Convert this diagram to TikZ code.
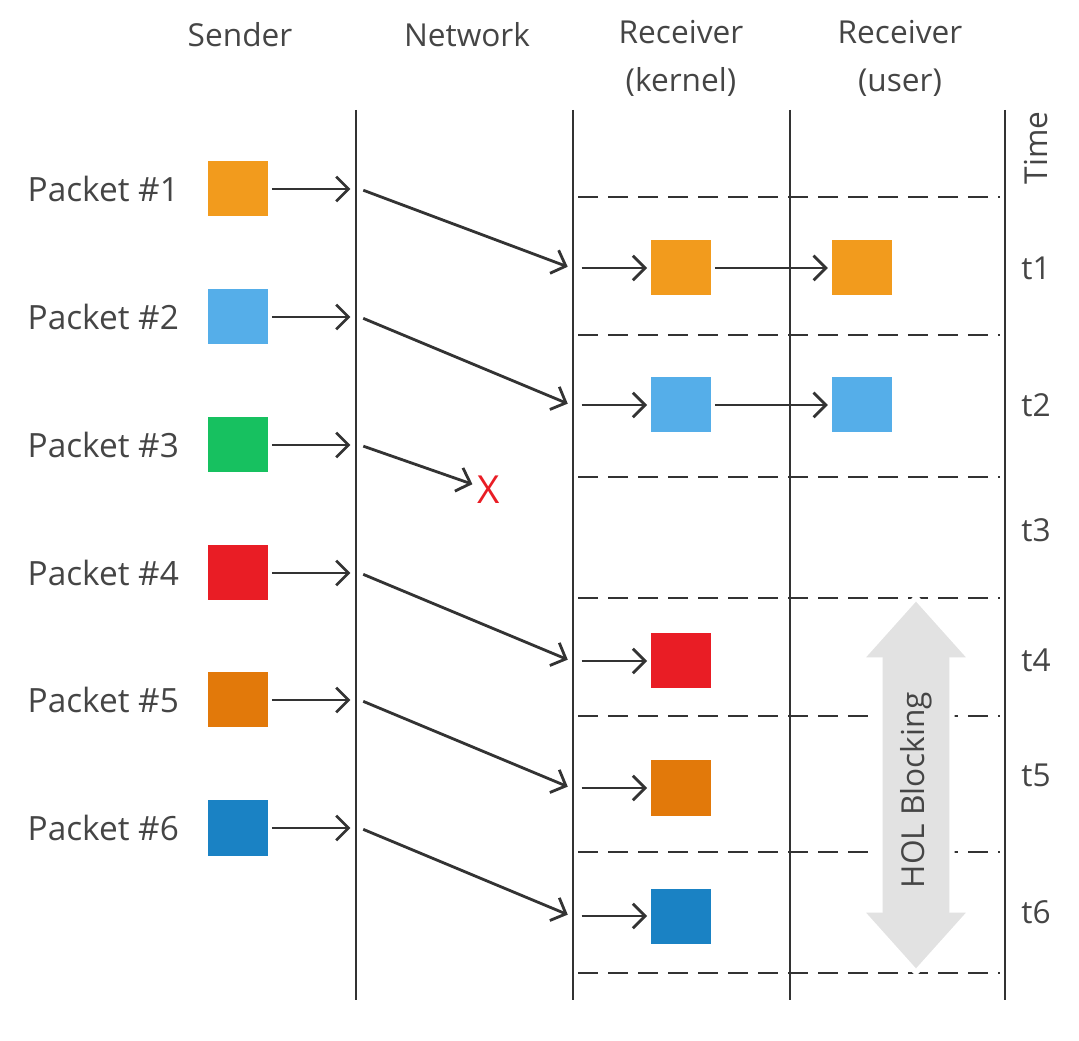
\documentclass[tikz,border=0pt]{standalone}
\usepackage{fontspec}
\setmainfont{Open Sans}
\usetikzlibrary{arrows.meta, calc, positioning}

\definecolor{inkGray}{HTML}{333333}
\definecolor{textGray}{HTML}{454545}
\definecolor{holGray}{HTML}{E2E2E2}
\definecolor{pktOrange}{HTML}{F29B1D}
\definecolor{pktSky}{HTML}{55AEE9}
\definecolor{pktGreen}{HTML}{17C160}
\definecolor{pktRed}{HTML}{E91D25}
\definecolor{pktAmber}{HTML}{E2790A}
\definecolor{pktBlue}{HTML}{1A82C4}

\tikzstyle{packet} = [rectangle, minimum width=1.2cm, minimum height=1.1cm, inner sep=0pt]
\tikzstyle{heading} = [text=textGray, font=\fontsize{18}{27}\selectfont, align=center]
\tikzstyle{pktName} = [text=textGray, font=\fontsize{19}{22}\selectfont, anchor=east]
\tikzstyle{timeMark} = [text=textGray, font=\fontsize{18}{22}\selectfont]
\tikzstyle{lane} = [inkGray, line width=1.6pt]
\tikzstyle{slot} = [inkGray, line width=1.7pt, dash pattern=on 0.4cm off 0.2cm]
\tikzstyle{arrowSend} = [inkGray, line width=1.6pt, -{Straight Barb[length=7pt, width=14pt]}, shorten >= 2pt, shorten <= 2pt]

\begin{document}
\begin{tikzpicture}
    \useasboundingbox (0,0) rectangle (21.58,-20.82);

    % lanes
    \foreach \lane/\x in {net/7.12, kern/11.46, user/15.8, time/20.1} {
        \coordinate (\lane Top) at (\x,-2.2);
        \coordinate (\lane Bot) at (\x,-20.0);
        \draw [lane] (\lane Top) -- (\lane Bot);
    }

    % headings
    \node (hSender) [heading] at (4.8,-0.7) {Sender};
    \node (hNet) [heading] at (9.34,-0.7) {Network};
    \node (hKern) [heading] at (13.62,-1.17) {Receiver\\(kernel)};
    \node (hUser) [heading] at (18.0,-1.17) {Receiver\\(user)};

    % time slots
    \foreach \y [count=\k] in {-3.94,-6.7,-9.54,-11.96,-14.32,-17.04,-19.46} {
        \coordinate (slotL\k) at (11.56,\y);
        \coordinate (slotR\k) at (20.0,\y);
        \draw [slot] (slotL\k) -- (slotR\k);
    }

    \node (timeLbl) [timeMark, rotate=90] at (20.72,-2.96) {Time};
    \foreach \t/\y in {1/-5.36, 2/-8.1, 3/-10.6, 4/-13.2, 5/-15.5, 6/-18.24} {
        \node (t\t) [timeMark] at (20.72,\y) {t\t};
    }

    % sender
    \foreach \i/\col/\y in {1/pktOrange/-3.78, 2/pktSky/-6.34, 3/pktGreen/-8.9, 4/pktRed/-11.46, 5/pktAmber/-14.0, 6/pktBlue/-16.56} {
        \node (snd\i) [packet, fill=\col] at (4.76,\y) {};
        \node (name\i) [pktName, left=0.45cm of snd\i] {Packet \#\i};
        \coordinate (netIn\i) at (7.08,\y);
        \coordinate (netOut\i) at (7.2,\y);
        \draw [arrowSend] (snd\i) -- (netIn\i);
    }

    % receiver (kernel)
    \foreach \i/\col/\y in {1/pktOrange/-5.36, 2/pktSky/-8.1, 4/pktRed/-13.22, 5/pktAmber/-15.76, 6/pktBlue/-18.32} {
        \coordinate (kernIn\i) at (11.42,\y);
        \coordinate (kernOut\i) at (11.56,\y);
        \node (rcv\i) [packet, fill=\col] at (13.62,\y) {};
        \draw [arrowSend] (netOut\i) -- (kernIn\i);
        \draw [arrowSend] (kernOut\i) -- (rcv\i);
    }

    % receiver (user)
    \foreach \i/\col in {1/pktOrange, 2/pktSky} {
        \node (app\i) [packet, fill=\col, right=2.4cm of rcv\i] {};
        \draw [arrowSend] (rcv\i) -- (app\i);
    }

    % lost packet
    \node (lost) [text=pktRed, inner sep=1pt, font=\fontsize{22}{22}\selectfont] at (9.78,-9.8) {X};
    \draw [arrowSend] (netOut3) -- (lost);

    % head-of-line blocking
    \coordinate (holTop) at (18.32,-11.95);
    \coordinate (holBot) at (18.32,-19.45);
    \filldraw [fill=holGray, draw=white, line width=3pt] (holTop) -- ++(-1.12,-1.25) -- ++(0.4,0) -- ++(0,-5.0) -- ++(-0.4,0) -- (holBot)
        -- ++(1.12,1.25) -- ++(-0.4,0) -- ++(0,5.0) -- ++(0.4,0) -- cycle;
    \node (holText) [timeMark, rotate=90] at (18.32,-15.8) {HOL Blocking};

\end{tikzpicture}
\end{document}
